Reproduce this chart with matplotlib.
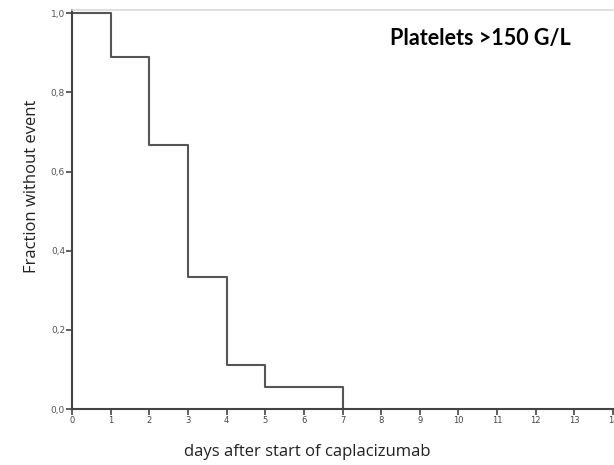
import matplotlib.pyplot as plt
import numpy as np

# Kaplan-Meier style curve: fraction without event by day
days = [0, 1, 2, 3, 4, 5, 7]
fraction = [1.0, 0.889, 0.667, 0.333, 0.111, 0.056, 0.0]
x_ticks = list(range(0, 15))
y_ticks = [0.0, 0.2, 0.4, 0.6, 0.8, 1.0]
y_ticklabels = ['0,0', '0,2', '0,4', '0,6', '0,8', '1,0']

fig = plt.figure(figsize=(6.14, 4.65), dpi=100, facecolor='white')
ax = fig.add_axes([72 / 614, 1 - 409 / 465, 541 / 614, 399 / 465])

ax.step(days, fraction, where='post', color='#555555', linewidth=1.5, clip_on=False)

ax.set_xlim(0, 14)
ax.set_ylim(0, 1.008)
ax.set_xticks(x_ticks)
ax.set_xticklabels([str(t) for t in x_ticks], fontsize=6, color='#444444', family='DejaVu Sans')
ax.set_yticks(y_ticks)
ax.set_yticklabels(y_ticklabels, fontsize=6.5, color='#555555', family='DejaVu Sans')
ax.tick_params(axis='both', direction='out', length=4, width=1.2, color='#444444', pad=1)

for s in ['left', 'bottom']:
    ax.spines[s].set_color('#444444')
    ax.spines[s].set_linewidth(1.5)
ax.spines['top'].set_color('#d9d9d9')
ax.spines['top'].set_linewidth(1.2)
ax.spines['right'].set_visible(False)

fig.text(32 / 614, 1 - 186 / 465, 'Fraction without event', fontsize=12, rotation=90,
         family='Open Sans', color='#222222', ha='center', va='center')
fig.text(307 / 614, 1 - 452 / 465, 'days after start of caplacizumab', fontsize=12,
         family='Open Sans', color='#222222', ha='center', va='center')
fig.text(480 / 614, 1 - 38 / 465, 'Platelets >150 G/L', fontsize=15.5, fontweight='bold',
         family='Lato', color='black', ha='center', va='center')

fig.savefig('out.png', dpi=100)
